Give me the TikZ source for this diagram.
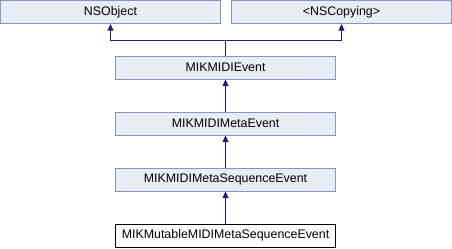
\documentclass[tikz,border=0pt]{standalone}
\usepackage{fontspec}
\setmainfont{Liberation Sans}
\usetikzlibrary{arrows.meta,positioning}
\definecolor{classfill}{HTML}{E8ECF5}
\definecolor{classedge}{HTML}{8496C9}
\definecolor{inherit}{HTML}{1A1A8C}
\tikzset{
  classbox/.style={draw=classedge,fill=classfill,line width=0.75pt,minimum width=165pt,minimum height=17.25pt,inner sep=0pt,font=\fontsize{9.3pt}{11pt}\selectfont},
  leafbox/.style={classbox,draw=black,fill=white},
  isa/.style={inherit,line width=0.75pt,-{Triangle[length=5pt,width=4.5pt]}}
}
\begin{document}
\begin{tikzpicture}[x=0.75pt,y=-0.75pt]
    \useasboundingbox (0,0) rectangle (452,248);
    % base class and protocol
    \node[classbox] (nsobj) at (110.5,12) {NSObject};
    \node[classbox] (nscopy) at (341.5,12) {<NSCopying>};
    % hierarchy
    \node[classbox] (event) at (225.5,67.5) {MIKMIDIEvent};
    \node[classbox] (meta) at (225.5,123.5) {MIKMIDIMetaEvent};
    \node[classbox] (seq) at (225.5,179.5) {MIKMIDIMetaSequenceEvent};
    \node[leafbox] (mutable) at (225.5,235.5) {MIKMutableMIDIMetaSequenceEvent};
    % inheritance lines
    \coordinate (fork) at (225.5,40.5);
    \draw[inherit,line width=0.75pt] (event.north) -- (fork);
    \draw[isa] (fork) -| (nsobj.south);
    \draw[isa] (fork) -| (nscopy.south);
    \draw[isa] (meta) -- (event);
    \draw[isa] (seq) -- (meta);
    \draw[isa] (mutable) -- (seq);
\end{tikzpicture}
\end{document}
